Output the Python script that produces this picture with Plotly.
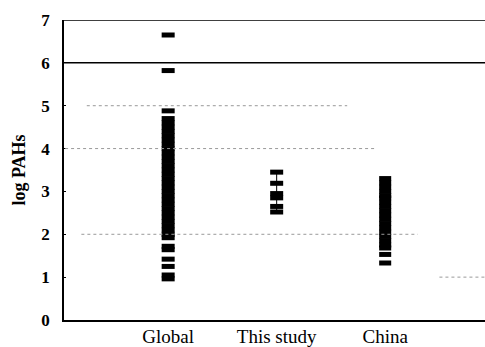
import plotly.graph_objects as go

categories = ["Global", "This study", "China"]
cat_pos = [1, 2, 3]

global_vals = [6.65, 5.82, 4.88,
               4.70, 4.60, 4.50, 4.40, 4.30, 4.20, 4.10, 4.00, 3.90, 3.80,
               3.70, 3.60, 3.50, 3.40, 3.30, 3.20, 3.10, 3.00, 2.90, 2.80,
               2.70, 2.60, 2.50, 2.40, 2.30, 2.20, 2.10, 2.00, 1.92,
               1.72, 1.64, 1.42, 1.25, 1.05, 0.96]
study_vals = [3.45, 3.19, 2.95, 2.85, 2.65, 2.52]
china_vals = [3.30, 3.20, 3.10, 3.00, 2.90, 2.85, 2.75, 2.65, 2.55, 2.45,
              2.35, 2.25, 2.15, 2.05, 1.95, 1.85, 1.75, 1.68, 1.53, 1.33]

y_ticks = [0, 1, 2, 3, 4, 5, 6, 7]
y_ticktext = ["<b>%d</b>" % v for v in y_ticks]

fig = go.Figure()

mk = dict(symbol="line-ew", size=9.3, line=dict(color="black", width=5))

fig.add_trace(go.Scatter(x=[cat_pos[0]] * len(global_vals), y=global_vals,
                         mode="markers", marker=mk, showlegend=False))
fig.add_trace(go.Scatter(x=[cat_pos[1]] * len(study_vals), y=study_vals,
                         mode="lines+markers", marker=mk,
                         line=dict(color="black", width=1), showlegend=False))
fig.add_trace(go.Scatter(x=[cat_pos[2]] * len(china_vals), y=china_vals,
                         mode="markers", marker=dict(symbol="line-ew", size=8.6,
                                                     line=dict(color="black", width=5)),
                         showlegend=False))

# horizontal reference lines
fig.add_shape(type="line", xref="paper", yref="y", x0=0, x1=1, y0=7, y1=7,
              line=dict(color="black", width=1.5))
fig.add_shape(type="line", xref="paper", yref="y", x0=0, x1=1, y0=6, y1=6,
              line=dict(color="black", width=1.5))
for y0, xa, xb in [(5, 0.25, 2.65), (4, 0.05, 2.9), (2, 0.2, 3.3), (1, 3.5, 3.92)]:
    fig.add_shape(type="line", xref="x", yref="y", x0=xa, x1=xb, y0=y0, y1=y0,
                  line=dict(color="#999999", width=1, dash="dot"))

fig.update_layout(
    width=485, height=347,
    margin=dict(l=64, r=0, t=20, b=25),
    plot_bgcolor="white", paper_bgcolor="white",
    font=dict(family="Liberation Serif", size=14, color="black"),
)
fig.update_xaxes(range=[0.04, 3.92], tickvals=cat_pos, ticktext=categories,
                 showgrid=False, zeroline=False, showline=True,
                 linecolor="black", linewidth=1.5, ticks="",
                 ticklabelstandoff=-2,
                 tickfont=dict(size=19))
fig.update_yaxes(range=[0, 7], tickvals=y_ticks, ticktext=y_ticktext,
                 showgrid=False, zeroline=False,
                 showline=True, linecolor="black", linewidth=1.5,
                 ticks="inside", ticklen=2, tickcolor="black",
                 ticklabelstandoff=9,
                 tickfont=dict(size=17, family="Liberation Serif"),
                 title=dict(text="<b>log PAHs</b>", font=dict(size=18), standoff=11))

fig.write_html("out.html", config={"displayModeBar": False},
               post_script="document.body.style.margin='0';document.body.style.overflow='hidden';")
